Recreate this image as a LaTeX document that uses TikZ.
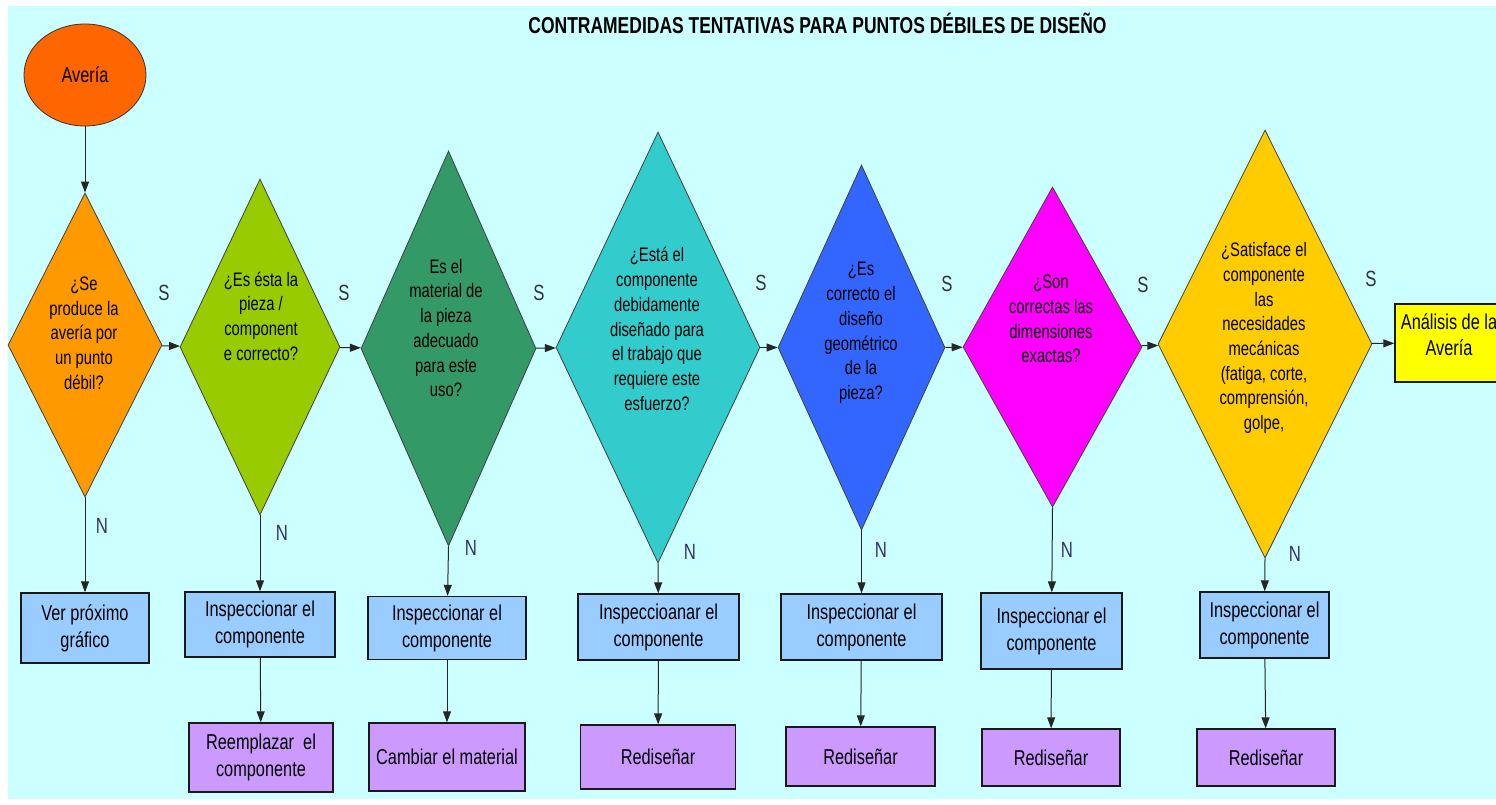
\documentclass[tikz,border=0pt]{standalone}
\usepackage{fontspec}
\setmainfont{Liberation Sans}[FakeStretch=0.76]
\usepackage{xcolor}
\usepackage{tikz}
\usetikzlibrary{shapes.geometric, arrows.meta, positioning}
\definecolor{fondo}{HTML}{CCFFFF}
\definecolor{averia}{HTML}{FF6600}
\definecolor{naranja}{HTML}{FF9900}
\definecolor{lima}{HTML}{99CC00}
\definecolor{verde}{HTML}{339966}
\definecolor{turquesa}{HTML}{33CCCC}
\definecolor{azul}{HTML}{3366FF}
\definecolor{magenta}{HTML}{FF00FF}
\definecolor{oro}{HTML}{FFCC00}
\definecolor{celeste}{HTML}{99CCFF}
\definecolor{lila}{HTML}{CC99FF}
\definecolor{amarillo}{HTML}{FFFF00}
\definecolor{letran}{HTML}{333366}
\tikzset{
    question/.style={
        diamond,
        draw=black!75,
        line width=0.8pt,
        inner sep=0pt,
    },
    qtext/.style={
        align=center,
        font=\fontsize{19.5}{24.7}\selectfont,
    },
    inspect/.style={
        rectangle,
        draw=black!90,
        line width=1.4pt,
        fill=celeste,
        align=center,
        inner sep=0pt,
        font=\fontsize{21.5}{27}\selectfont,
    },
    action/.style={
        inspect,
        fill=lila,
    },
    conn/.style={
        ->,
        draw=black!85,
        line width=1pt,
    },
    lbls/.style={
        text=black!80,
        font=\fontsize{22}{22}\selectfont,
    },
    lbln/.style={
        text=letran,
        font=\fontsize{22}{22}\selectfont,
    },
}

\begin{document}
\begin{tikzpicture}[x=1pt, y=-1pt, >={Triangle[width=8pt,length=11pt]}]
      \useasboundingbox (0,0) rectangle (1496,804);
      \fill[fondo] (8,6) rectangle (1496,799);

      \node[font=\fontsize{23}{23}\selectfont\bfseries] (titulo) at (817.5,23) {CONTRAMEDIDAS TENTATIVAS PARA PUNTOS DÉBILES DE DISEÑO};

      \node[ellipse, draw=black!80, line width=0.8pt, fill=averia, minimum width=122, minimum height=102, inner sep=0pt, font=\fontsize{21.5}{27}\selectfont] (av) at (85,75) {Avería};

      % preguntas
      \node[question, fill=naranja, minimum width=154, minimum height=304] (d1) at (85,345) {};
      \node[question, fill=lima, minimum width=160, minimum height=336] (d2) at (260,347) {};
      \node[question, fill=verde, minimum width=175, minimum height=395] (d3) at (448.5,348.5) {};
      \node[question, fill=turquesa, minimum width=204, minimum height=431] (d4) at (658,347.5) {};
      \node[question, fill=azul, minimum width=167, minimum height=365] (d5) at (861.5,347.5) {};
      \node[question, fill=magenta, minimum width=179, minimum height=320] (d6) at (1052.5,347) {};
      \node[question, fill=oro, minimum width=214, minimum height=428] (d7) at (1265,344) {};

      \node[qtext] (q1) at (84,333) {¿Se\\produce la\\avería por\\un punto\\débil?};
      \node[qtext] (q2) at (261,316) {¿Es ésta la\\pieza /\\component\\e correcto?};
      \node[qtext] (q3) at (446,328) {Es el\\material de\\la pieza\\adecuado\\para este\\uso?};
      \node[qtext] (q4) at (657,329) {¿Está el\\componente\\debidamente\\diseñado para\\el trabajo que\\requiere este\\esfuerzo?};
      \node[qtext] (q5) at (861,333) {¿Es\\correcto el\\diseño\\geométrico\\de la\\pieza?};
      \node[qtext] (q6) at (1051,319) {¿Son\\correctas las\\dimensiones\\exactas?};
      \node[qtext] (q7) at (1264,338) {¿Satisface el\\componente\\las\\necesidades\\mecánicas\\(fatiga, corte,\\comprensión,\\golpe,};

      \node[inspect, fill=amarillo, minimum width=108, minimum height=78] (an) at (1449,343) {};
      \node[align=center, font=\fontsize{21.5}{26}\selectfont] (ant) at (1449,335) {Análisis de la\\Avería};

      % cajas
      \node[inspect, minimum width=128, minimum height=70] (i1) at (85,628) {Ver próximo\\gráfico};
      \node[inspect, minimum width=150, minimum height=65] (i2) at (260,624.5) {Inspeccionar el\\componente};
      \node[inspect, minimum width=158, minimum height=63] (i3) at (447,628) {Inspeccionar el\\componente};
      \node[inspect, minimum width=161, minimum height=66] (i4) at (658.5,627) {Inspeccioanar el\\componente};
      \node[inspect, minimum width=161, minimum height=66] (i5) at (861.5,627) {Inspeccionar el\\componente};
      \node[inspect, minimum width=141, minimum height=76] (i6) at (1051.5,631) {Inspeccionar el\\componente};
      \node[inspect, minimum width=129, minimum height=66] (i7) at (1264.5,625) {Inspeccionar el\\componente};

      \node[action, minimum width=144, minimum height=69] (r2) at (261,757.5) {Reemplazar~ el\\componente};
      \node[action, minimum width=156, minimum height=68] (r3) at (447,757) {Cambiar el material};
      \node[action, minimum width=155, minimum height=64] (r4) at (658,757) {Rediseñar};
      \node[action, minimum width=149, minimum height=59] (r5) at (860.5,756.5) {Rediseñar};
      \node[action, minimum width=138, minimum height=57] (r6) at (1051,757.5) {Rediseñar};
      \node[action, minimum width=138, minimum height=57] (r7) at (1266,757.5) {Rediseñar};

      % conectores
      \draw[conn] (av) -- (d1);
      \draw[conn] (d1) -- (d2);
      \draw[conn] (d2) -- (d3);
      \draw[conn] (d3) -- (d4);
      \draw[conn] (d4) -- (d5);
      \draw[conn] (d5) -- (d6);
      \draw[conn] (d6) -- (d7);
      \draw[conn] (d7) -- (an);

      \draw[conn] (d1.south) -- (i1);
      \draw[conn] (d2.south) -- (i2);
      \draw[conn] (d3.south) -- (i3);
      \draw[conn] (d4.south) -- (i4);
      \draw[conn] (d5.south) -- (i5);
      \draw[conn] (d6.south) -- (i6);
      \draw[conn] (d7.south) -- (i7);

      \draw[conn] (i2) -- (r2);
      \draw[conn] (i3) -- (r3);
      \draw[conn] (i4) -- (r4);
      \draw[conn] (i5) -- (r5);
      \draw[conn] (i6) -- (r6);
      \draw[conn] (i7) -- (r7);

      % etiquetas
      \node[lbls] (s1) at (164,293) {S};
      \node[lbls] (s2) at (344,293) {S};
      \node[lbls] (s3) at (539,293) {S};
      \node[lbls] (s4) at (761,283) {S};
      \node[lbls] (s5) at (947,284) {S};
      \node[lbls] (s6) at (1143,285) {S};
      \node[lbls] (s7) at (1371,279) {S};

      \node[lbln] (n1) at (102,526) {N};
      \node[lbln] (n2) at (282,533) {N};
      \node[lbln] (n3) at (471,548) {N};
      \node[lbln] (n4) at (690,552) {N};
      \node[lbln] (n5) at (881,550) {N};
      \node[lbln] (n6) at (1067,550) {N};
      \node[lbln] (n7) at (1295,554) {N};

    \end{tikzpicture}
\end{document}
